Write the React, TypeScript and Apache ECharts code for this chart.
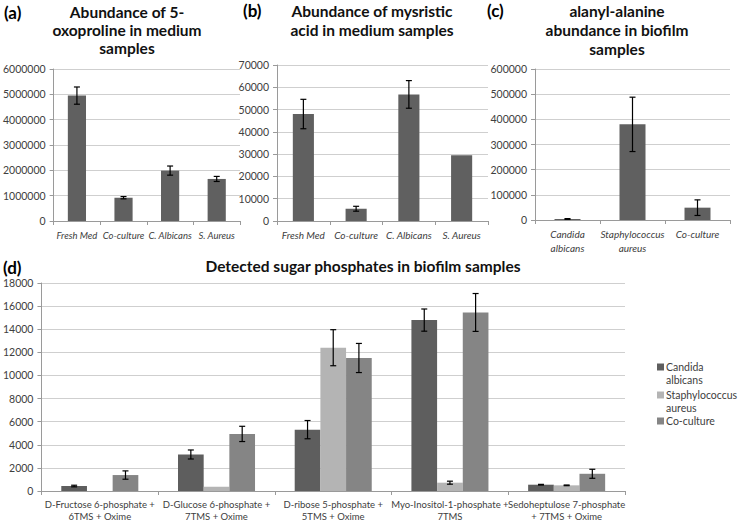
import React, { useEffect, useRef } from "react";
import * as echarts from "echarts";

const FONT = "Lato, 'Noto Sans', sans-serif";

const mediumCats = ["Fresh Med", "Co-culture", "C. Albicans", "S. Aureus"];
const oxoVals = [4950000, 920000, 1990000, 1660000];
const oxoErr = [340000, 45000, 180000, 100000];
const myrVals = [48000, 5500, 56800, 29500];
const myrErr = [6600, 1100, 6200, 0];

const biofilmCats = ["Candida\nalbicans", "Staphylococcus\naureus", "Co-culture"];
const alaVals = [4000, 380000, 49000];
const alaErr = [1500, 108000, 31000];

const sugarCats = [
  "D-Fructose 6-phosphate +\n6TMS + Oxime",
  "D-Glucose 6-phosphate +\n7TMS + Oxime",
  "D-ribose 5-phosphate +\n5TMS + Oxime",
  "Myo-Inositol-1-phosphate +\n7TMS",
  "Sedoheptulose 7-phosphate\n+ 7TMS + Oxime",
];
const sugarSeries = ["Candida\nalbicans", "Staphylococcus\naureus", "Co-culture"];
const candidaVals = [430, 3160, 5310, 14790, 545];
const candidaErr = [70, 390, 790, 960, 30];
const staphVals = [0, 370, 12400, 720, 490];
const staphErr = [0, 0, 1560, 130, 30];
const coVals = [1380, 4940, 11510, 15450, 1490];
const coErr = [360, 660, 1260, 1640, 390];

const sugarColors = ["#5e5e5e", "#b4b4b4", "#858585"];
const panelBar = "#606060";

function errData(vals: number[], errs: number[]) {
  return vals
    .map((v, i) => [i, v - errs[i], v + errs[i]])
    .filter((_, i) => errs[i] > 0);
}

function errSeries(idx: number, vals: number[], errs: number[], nSeries: number, sIdx: number, gap: number) {
  return {
    type: "custom",
    xAxisIndex: idx,
    yAxisIndex: idx,
    z: 5,
    silent: true,
    data: errData(vals, errs),
    renderItem: (params: any, api: any) => {
      const xi = api.value(0);
      const lo = api.value(1);
      const hi = api.value(2);
      const band = api.size([1, 0])[0];
      const bw = (band * (1 - gap)) / nSeries;
      const off = (sIdx - (nSeries - 1) / 2) * bw;
      const pHi = api.coord([xi, hi]);
      const pLo = api.coord([xi, lo]);
      const x = pHi[0] + off;
      const cap = 3;
      const st = { stroke: "#000", lineWidth: 1.2 };
      return {
        type: "group",
        children: [
          { type: "line", shape: { x1: x, y1: pHi[1], x2: x, y2: pLo[1] }, style: st },
          { type: "line", shape: { x1: x - cap, y1: pHi[1], x2: x + cap, y2: pHi[1] }, style: st },
          { type: "line", shape: { x1: x - cap, y1: pLo[1], x2: x + cap, y2: pLo[1] }, style: st },
        ],
      };
    },
  };
}

const axisLabel = { fontFamily: FONT, fontSize: 10.5, color: "#404040" };

function yAxis(idx: number, max: number, interval: number) {
  return {
    type: "value",
    gridIndex: idx,
    min: 0,
    max,
    interval,
    axisLine: { show: true, lineStyle: { color: "#9a9a9a" } },
    axisTick: { show: true, length: 4, lineStyle: { color: "#9a9a9a" } },
    splitLine: { lineStyle: { color: "#cfcfcf" } },
    axisLabel: { ...axisLabel, margin: 8, formatter: (v: number) => String(v) },
  };
}

function xAxis(idx: number, cats: string[], italic: boolean, size: number) {
  return {
    type: "category",
    gridIndex: idx,
    data: cats,
    axisLine: { show: true, lineStyle: { color: "#9a9a9a" } },
    axisTick: { show: true, length: 4, alignWithLabel: false, lineStyle: { color: "#9a9a9a" } },
    axisLabel: {
      ...axisLabel,
      fontSize: size,
      fontStyle: italic ? "italic" : "normal",
      interval: 0,
      margin: 7,
      lineHeight: italic ? 14 : 12,
    },
  };
}

export default function App() {
  const ref = useRef<HTMLDivElement>(null);
  useEffect(() => {
    document.body.style.margin = "0";
    if (!ref.current) return;
    const chart = echarts.init(ref.current, null, { renderer: "svg" });

    const titleFont = `bold 15.5px ${FONT}`;
    const labelFont = `bold 17px ${FONT}`;
    const graphics: any[] = [
      { type: "text", x: 4, y: 3.5, style: { text: "(a)", font: labelFont, fill: "#000" } },
      { type: "text", x: 243, y: 1.5, style: { text: "(b)", font: labelFont, fill: "#000" } },
      { type: "text", x: 487, y: 2, style: { text: "(c)", font: labelFont, fill: "#000" } },
      { type: "text", x: 3, y: 259, style: { text: "(d)", font: labelFont, fill: "#000" } },
      {
        type: "text", x: 127, y: 3,
        style: { text: "Abundance of 5-\noxoproline in medium\nsamples", font: titleFont, lineHeight: 18, textAlign: "center", fill: "#111" },
      },
      {
        type: "text", x: 372, y: 1,
        style: { text: "Abundance of mysristic\nacid in medium samples", font: titleFont, lineHeight: 19, textAlign: "center", fill: "#111" },
      },
      {
        type: "text", x: 617, y: 1,
        style: { text: "alanyl-alanine\nabundance in biofilm\nsamples", font: titleFont, lineHeight: 19, textAlign: "center", fill: "#111" },
      },
      {
        type: "text", x: 363, y: 258,
        style: { text: "Detected sugar phosphates in biofilm samples", font: titleFont, textAlign: "center", fill: "#111" },
      },
    ];
    const legendY = [367, 395, 421];
    sugarSeries.forEach((name, i) => {
      graphics.push({ type: "rect", shape: { x: 657, y: legendY[i] - 3.5, width: 7, height: 7 }, style: { fill: sugarColors[i] } });
      graphics.push({
        type: "text", x: 666, y: legendY[i] - 6.25,
        style: { text: name, font: `10.5px ${FONT}`, lineHeight: 12.5, fill: "#404040" },
      });
    });

    const option: any = {
      animation: false,
      backgroundColor: "#fff",
      grid: [
        { left: 52, top: 69, width: 188, height: 152 },
        { left: 277, top: 65, width: 211, height: 156 },
        { left: 535, top: 69, width: 195, height: 151 },
        { left: 35, top: 283, width: 590, height: 209 },
      ],
      xAxis: [
        xAxis(0, mediumCats, true, 9.5),
        xAxis(1, mediumCats, true, 10),
        xAxis(2, biofilmCats, true, 10),
        xAxis(3, sugarCats, false, 9.5),
      ],
      yAxis: [
        yAxis(0, 6000000, 1000000),
        yAxis(1, 70000, 10000),
        yAxis(2, 600000, 100000),
        yAxis(3, 18000, 2000),
      ],
      graphic: graphics,
      series: [
        { type: "bar", xAxisIndex: 0, yAxisIndex: 0, data: oxoVals, barCategoryGap: "61%", itemStyle: { color: panelBar } },
        { type: "bar", xAxisIndex: 1, yAxisIndex: 1, data: myrVals, barCategoryGap: "60%", itemStyle: { color: panelBar } },
        { type: "bar", xAxisIndex: 2, yAxisIndex: 2, data: alaVals, barCategoryGap: "60%", itemStyle: { color: panelBar } },
        errSeries(0, oxoVals, oxoErr, 1, 0, 0.61),
        errSeries(1, myrVals, myrErr, 1, 0, 0.6),
        errSeries(2, alaVals, alaErr, 1, 0, 0.6),
        { type: "bar", name: sugarSeries[0], xAxisIndex: 3, yAxisIndex: 3, data: candidaVals, barGap: "0%", barCategoryGap: "34%", itemStyle: { color: sugarColors[0] } },
        { type: "bar", name: sugarSeries[1], xAxisIndex: 3, yAxisIndex: 3, data: staphVals, barGap: "0%", barCategoryGap: "34%", itemStyle: { color: sugarColors[1] } },
        { type: "bar", name: sugarSeries[2], xAxisIndex: 3, yAxisIndex: 3, data: coVals, barGap: "0%", barCategoryGap: "34%", itemStyle: { color: sugarColors[2] } },
        errSeries(3, candidaVals, candidaErr, 3, 0, 0.34),
        errSeries(3, staphVals, staphErr, 3, 1, 0.34),
        errSeries(3, coVals, coErr, 3, 2, 0.34),
      ],
    };
    chart.setOption(option);
    return () => chart.dispose();
  }, []);
  return <div ref={ref} style={{ width: 738, height: 522 }} />;
}
